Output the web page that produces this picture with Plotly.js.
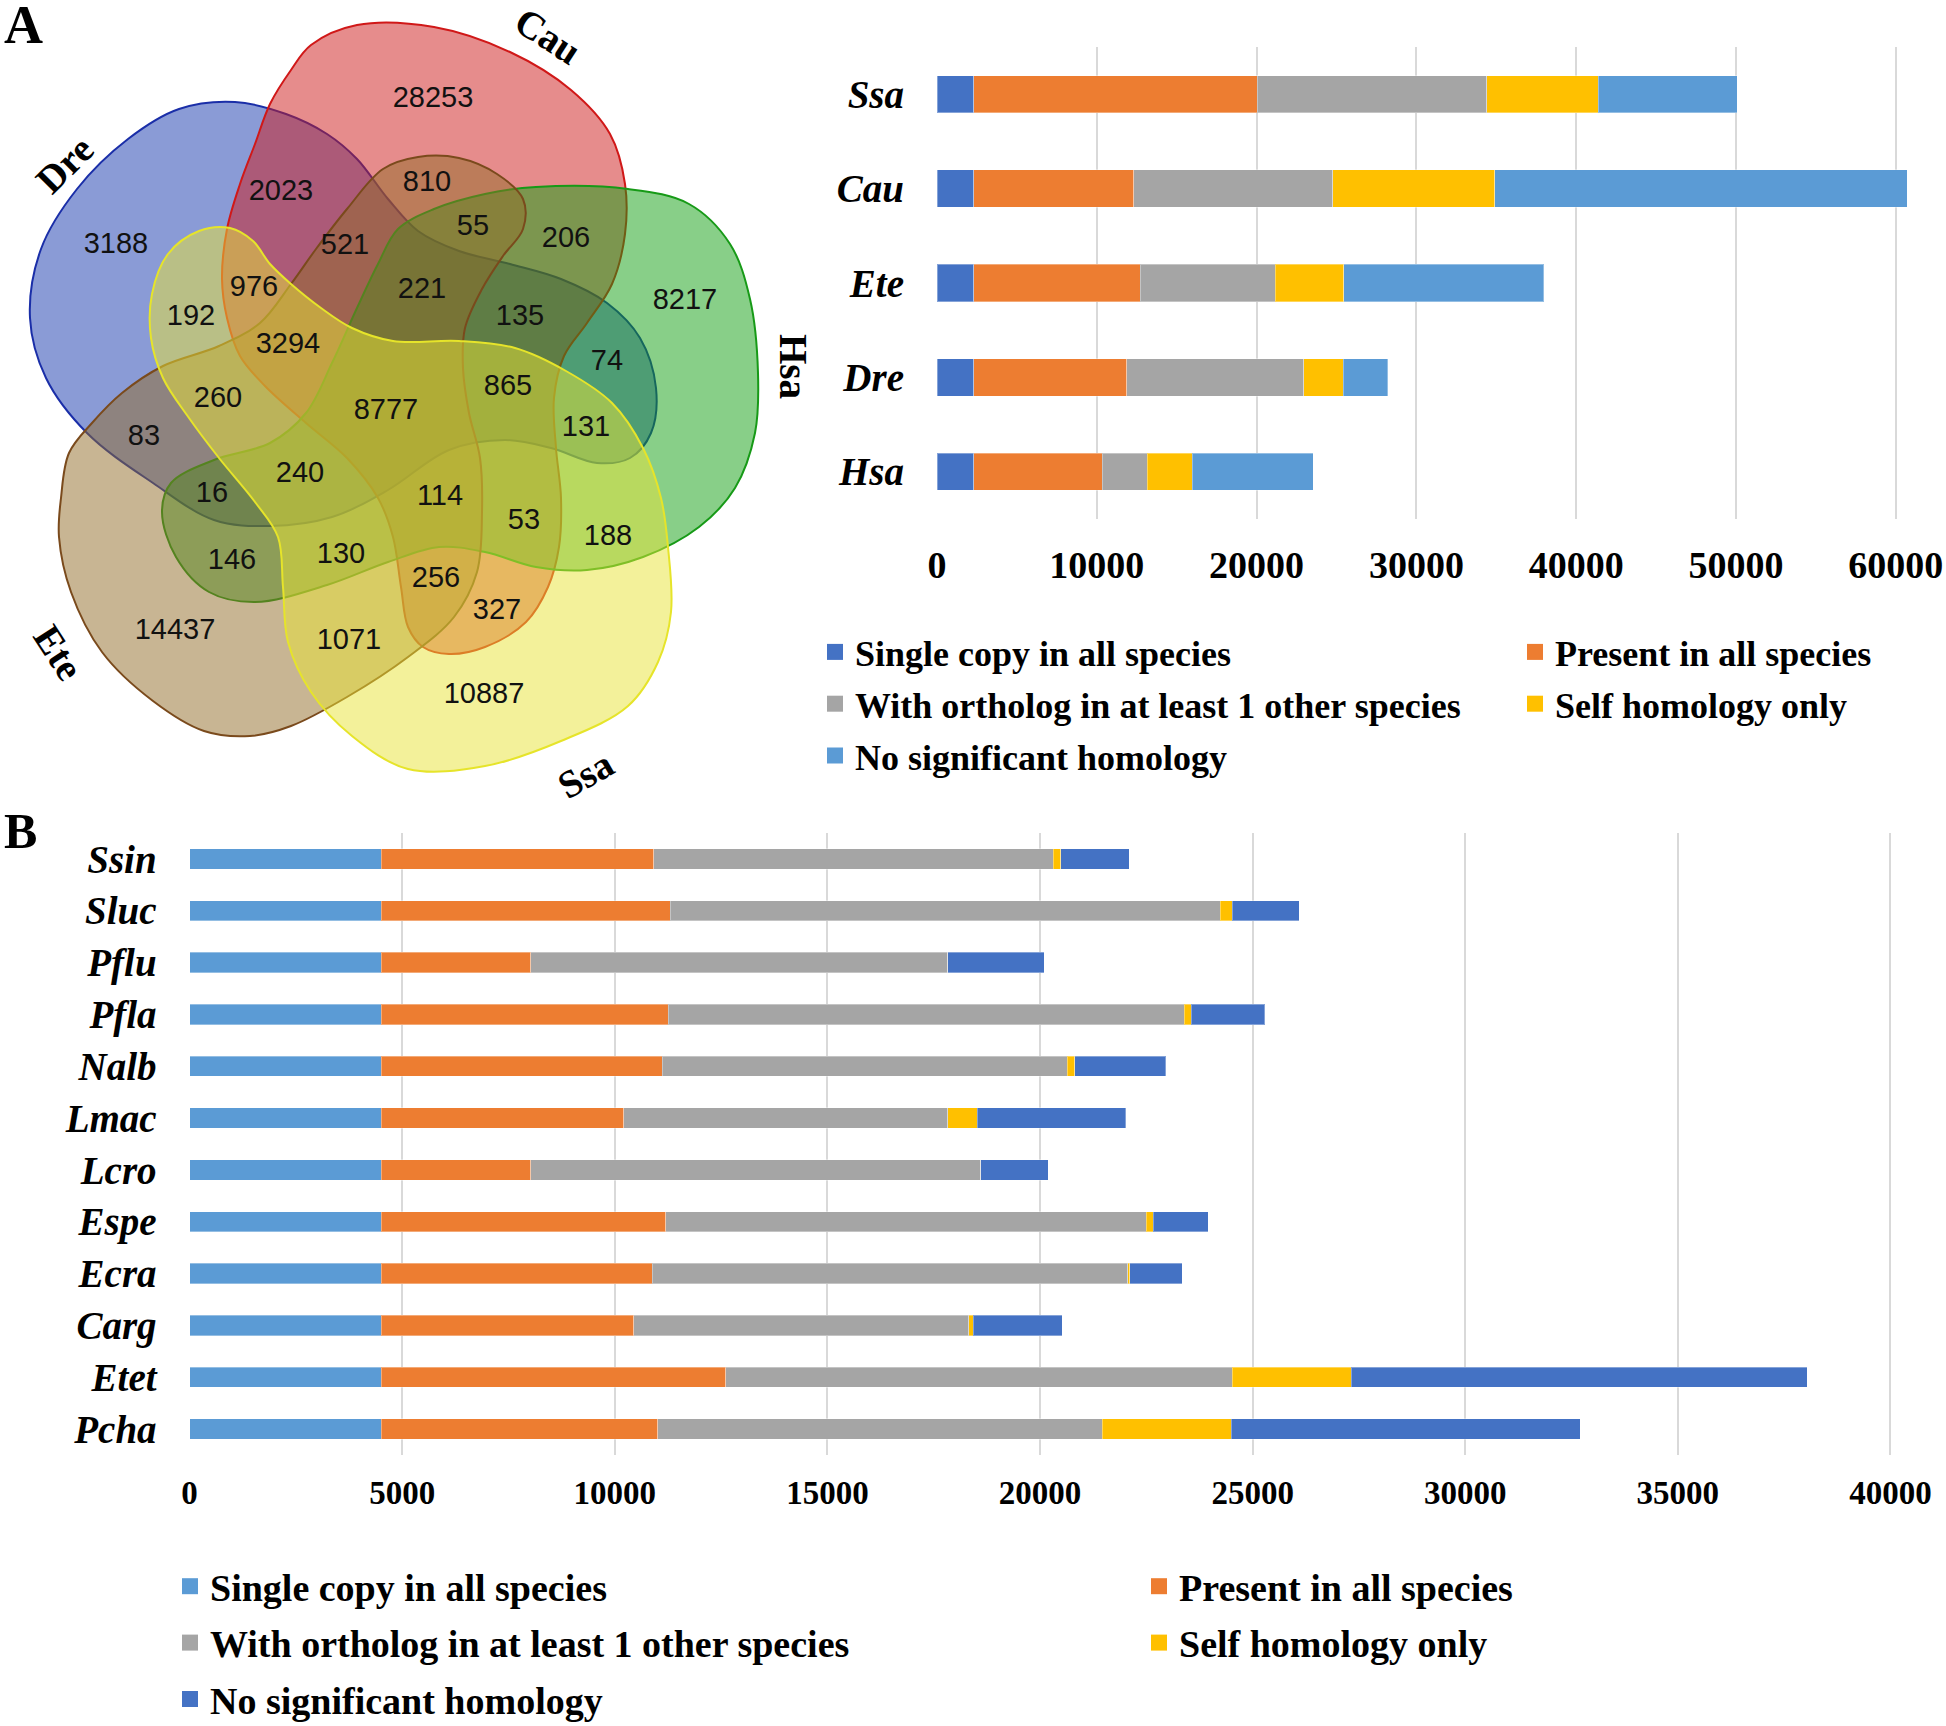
<!DOCTYPE html>
<html>
<head>
<meta charset="utf-8">
<script src="https://cdn.plot.ly/plotly-3.0.1.min.js"></script>
<style>
  body { margin: 0; background: #fff; }
  #grafica { width: 1946px; height: 1726px; }
</style>
</head>
<body>
<div id="grafica"></div>
<script>
// ---- panel A: gene family counts per species ----
const especiesA = ['Ssa', 'Cau', 'Ete', 'Dre', 'Hsa'];
const singleA = [2290, 2290, 2290, 2290, 2290];
const presentA = [17740, 10010, 10420, 9600, 8045];
const orthoA = [14360, 12480, 8460, 11070, 2835];
const selfA = [7000, 10110, 4300, 2470, 2790];
const noSigA = [8690, 25840, 12490, 2790, 7590];

// ---- panel B ----
const especiesB = ['Ssin', 'Sluc', 'Pflu', 'Pfla', 'Nalb', 'Lmac', 'Lcro', 'Espe', 'Ecra', 'Carg', 'Etet', 'Pcha'];
const singleB = [4505, 4505, 4505, 4505, 4505, 4505, 4505, 4505, 4505, 4505, 4505, 4505];
const presentB = [6411, 6801, 3513, 6756, 6606, 5705, 3513, 6696, 6381, 5945, 8108, 6501];
const orthoB = [9392, 12932, 9812, 12126, 9524, 7620, 10592, 11292, 11182, 7874, 11910, 10452];
const selfB = [183, 285, 0, 172, 183, 690, 0, 170, 40, 106, 2794, 3037];
const noSigB = [1605, 1574, 2266, 1731, 2143, 3491, 1586, 1291, 1237, 2090, 10726, 8215];

const nombres = ['Single copy in all species', 'Present in all species',
    'With ortholog in at least 1 other species', 'Self homology only', 'No significant homology'];

// ---- Venn counts ----
const vennSets = ['Dre', 'Cau', 'Hsa', 'Ete', 'Ssa'];
const vennCounts = [3188, 28253, 2023, 810, 55, 206, 8217, 521, 976, 192, 221, 135, 3294, 74, 260,
    8777, 865, 83, 131, 16, 240, 114, 53, 188, 146, 130, 256, 327, 14437, 1071, 10887];

// where each count is written (venn pixel space)
const vennLabelX = [116, 433, 281, 427, 473, 566, 685, 345, 254, 191, 422, 520, 288, 607, 218,
    386, 508, 144, 586, 212, 300, 440, 524, 608, 232, 341, 436, 497, 175, 349, 484];
const vennLabelY = [246, 100, 193, 184, 228, 240, 302, 247, 289, 318, 291, 318, 346, 363, 400,
    412, 388, 438, 429, 495, 475, 498, 522, 538, 562, 556, 580, 612, 632, 642, 696];

// outlines of the five sets
const contornos = {
    Dre: [[235,102],[286,114],[327,134],[357,159],[388,199],[418,231],[459,251],[510,264],[561,279],[607,303],
          [640,338],[656,388],[651,433],[630,458],[597,463],[551,448],[505,440],[449,450],[388,490],[332,517],
          [270,526],[214,520],[153,483],[87,433],[46,378],[30,318],[41,249],[77,189],[128,139],[179,109]],
    Cau: [[311,45],[357,25],[434,27],[510,52],[571,90],[610,134],[625,184],[625,234],[612,284],[587,323],
          [564,356],[554,398],[556,448],[561,498],[559,547],[548,587],[526,622],[485,647],[449,654],[423,647],
          [408,627],[401,587],[393,537],[378,498],[347,458],[306,423],[265,386],[240,356],[227,318],[222,279],
          [227,229],[240,184],[255,144],[270,104],[291,70]],
    Hsa: [[398,229],[434,209],[485,194],[536,187],[628,189],[689,204],[730,244],[750,299],[758,373],[755,433],
          [735,488],[699,527],[643,557],[587,570],[536,567],[485,552],[439,547],[388,562],[327,585],[255,602],
          [209,592],[176,557],[162,512],[171,483],[214,460],[270,443],[306,413],[332,363],[357,308],[378,264]],
    Ete: [[61,498],[69,453],[92,423],[122,393],[163,366],[219,346],[260,323],[291,284],[316,249],[347,209],
          [383,169],[418,157],[459,158],[497,174],[523,199],[523,229],[503,256],[482,289],[465,328],[463,368],
          [469,413],[480,458],[482,512],[477,572],[454,617],[408,657],[347,697],[291,726],[250,736],[204,731],
          [153,701],[102,652],[71,592],[59,537]],
    Ssa: [[230,228],[253,241],[270,264],[291,284],[321,308],[352,328],[393,341],[459,341],[515,348],[566,371],
          [612,403],[643,448],[661,498],[668,547],[671,612],[658,662],[628,706],[561,741],[485,766],[408,769],
          [352,736],[311,692],[288,642],[283,587],[278,537],[255,502],[219,458],[189,418],[163,378],[151,338],
          [152,294],[168,254],[199,231]]
};
const rellenos = {
    Dre: 'rgba(21,55,173,0.5)', Cau: 'rgba(205,25,25,0.5)', Hsa: 'rgba(17,159,17,0.5)',
    Ete: 'rgba(145,107,39,0.5)', Ssa: 'rgba(231,227,53,0.5)'
};
const bordes = { Dre: '#1a2ea8', Cau: '#d01818', Hsa: '#179a17', Ete: '#7a4a1c', Ssa: '#e6e42a' };

const W = 1946, H = 1726;
const serif = 'Liberation Serif, Times New Roman, serif';

function barras(cats, series, colores, xa, ya) {
    return series.map((vals, i) => ({
        type: 'bar',
        orientation: 'h',
        x: vals,
        y: cats,
        name: nombres[i],
        marker: { color: colores[i], line: { color: 'rgba(255,255,255,0.35)', width: 1 } },
        xaxis: xa,
        yaxis: ya,
        showlegend: false,
        hoverinfo: 'x+y+name'
    }));
}

// legend entries (square swatches, bigger than the default bar symbol)
function entradas(colores, leyendas) {
    return colores.map((c, i) => ({
        type: 'scatter',
        mode: 'markers',
        x: [null],
        y: [null],
        name: nombres[i],
        legendgroup: leyendas[0] + i,
        legend: (i % 2 === 0) ? leyendas[0] : leyendas[1],
        marker: { symbol: 'square', size: 18, color: c },
        xaxis: 'x3',
        yaxis: 'y3',
        hoverinfo: 'skip'
    }));
}

const colA = ['#4472c4', '#ed7d31', '#a5a5a5', '#ffc000', '#5b9bd5'];
const colB = ['#5b9bd5', '#ed7d31', '#a5a5a5', '#ffc000', '#4472c4'];

const tracesA = barras(especiesA, [singleA, presentA, orthoA, selfA, noSigA], colA, 'x', 'y');
const tracesB = barras(especiesB, [singleB, presentB, orthoB, selfB, noSigB], colB, 'x2', 'y2');
const leyA = entradas(colA, ['legend', 'legend2']);
const leyB = entradas(colB, ['legend3', 'legend4']);

const tracesVenn = vennSets.map(s => {
    const pts = contornos[s].concat([contornos[s][0]]);
    return {
        type: 'scatter',
        mode: 'lines',
        x: pts.map(p => p[0]),
        y: pts.map(p => p[1]),
        fill: 'toself',
        fillcolor: rellenos[s],
        line: { color: bordes[s], width: 2, shape: 'spline', smoothing: 1 },
        xaxis: 'x3',
        yaxis: 'y3',
        showlegend: false,
        hoverinfo: 'skip'
    };
});

const textoVenn = {
    type: 'scatter',
    mode: 'text',
    x: vennLabelX,
    y: vennLabelY,
    text: vennCounts.map(String),
    textfont: { family: 'Liberation Sans, Arial, sans-serif', size: 29, color: '#111' },
    xaxis: 'x3',
    yaxis: 'y3',
    showlegend: false,
    cliponaxis: false,
    hoverinfo: 'text'
};

const leyendaBase = (x, y, size, gap) => ({
    x: x, y: y, xanchor: 'left', yanchor: 'top',
    orientation: 'v',
    font: { family: serif, size: size, color: '#000', weight: 'bold' },
    bgcolor: 'rgba(0,0,0,0)',
    tracegroupgap: gap,
    itemwidth: 30
});

const ejeBarras = (dom, rango, tick, size, standoff) => ({
    domain: dom,
    range: rango,
    dtick: tick,
    tickformat: 'd',
    showgrid: true,
    gridcolor: '#d9d9d9',
    gridwidth: 2,
    zeroline: false,
    showline: false,
    ticks: '',
    ticklabelstandoff: standoff,
    tickfont: { family: serif, size: size, color: '#000', weight: 'bold' },
    fixedrange: true
});

const ejeCat = (dom) => ({
    domain: dom,
    autorange: 'reversed',
    type: 'category',
    showgrid: false,
    zeroline: false,
    showline: false,
    ticks: '',
    ticklabelstandoff: 32,
    tickfont: { family: serif, size: 39, color: '#000', weight: 'bold', style: 'italic' },
    fixedrange: true
});

const etiquetasSets = [
    { text: 'Dre', x: 64, y: 164, textangle: -45 },
    { text: 'Cau', x: 548, y: 35, textangle: 33 },
    { text: 'Hsa', x: 794, y: 366, textangle: 90 },
    { text: 'Ete', x: 59, y: 652, textangle: 57 },
    { text: 'Ssa', x: 585, y: 774, textangle: -30 }
].map(a => Object.assign(a, {
    xref: 'x3', yref: 'y3', showarrow: false, xanchor: 'center', yanchor: 'middle',
    font: { family: serif, size: 39, color: '#000', weight: 'bold' }
}));

const layout = {
    width: W,
    height: H,
    margin: { l: 0, r: 0, t: 0, b: 0, autoexpand: false },
    paper_bgcolor: '#fff',
    plot_bgcolor: 'rgba(0,0,0,0)',
    barmode: 'stack',
    bargap: 0.605,
    showlegend: true,
    xaxis: ejeBarras([937 / W, 1925 / W], [0, 61830], 10000, 38, 20),
    yaxis: ejeCat([1 - 519 / H, 1 - 47 / H]),
    xaxis2: Object.assign(ejeBarras([189.6 / W, 1910 / W], [0, 40460], 5000, 33, 15), { anchor: 'y2' }),
    yaxis2: Object.assign(ejeCat([1 - 1455 / H, 1 - 833 / H]), { anchor: 'x2' }),
    xaxis3: { domain: [0, 800 / W], range: [0, 800], visible: false, anchor: 'y3', fixedrange: true },
    yaxis3: { domain: [1 - 780 / H, 1], range: [780, 0], visible: false, anchor: 'x3', fixedrange: true },
    legend: leyendaBase(815 / W, 1 - 622 / H, 36, 2),
    legend2: leyendaBase(1515 / W, 1 - 622 / H, 36, 2),
    legend3: leyendaBase(170 / W, 1 - 1555 / H, 38, 4),
    legend4: leyendaBase(1139 / W, 1 - 1555 / H, 38, 4),
    annotations: etiquetasSets.concat([
        { text: 'A', x: 23 / W, y: 1 - 25 / H, xref: 'paper', yref: 'paper', showarrow: false,
          xanchor: 'center', yanchor: 'middle',
          font: { family: serif, size: 54, color: '#000', weight: 'bold' } },
        { text: 'B', x: 20 / W, y: 1 - 831 / H, xref: 'paper', yref: 'paper', showarrow: false,
          xanchor: 'center', yanchor: 'middle',
          font: { family: serif, size: 50, color: '#000', weight: 'bold' } }
    ])
};

const data = tracesVenn.concat([textoVenn], tracesA, tracesB, leyA, leyB);
Plotly.newPlot('grafica', data, layout, { displayModeBar: false, staticPlot: true });
</script>
</body>
</html>
